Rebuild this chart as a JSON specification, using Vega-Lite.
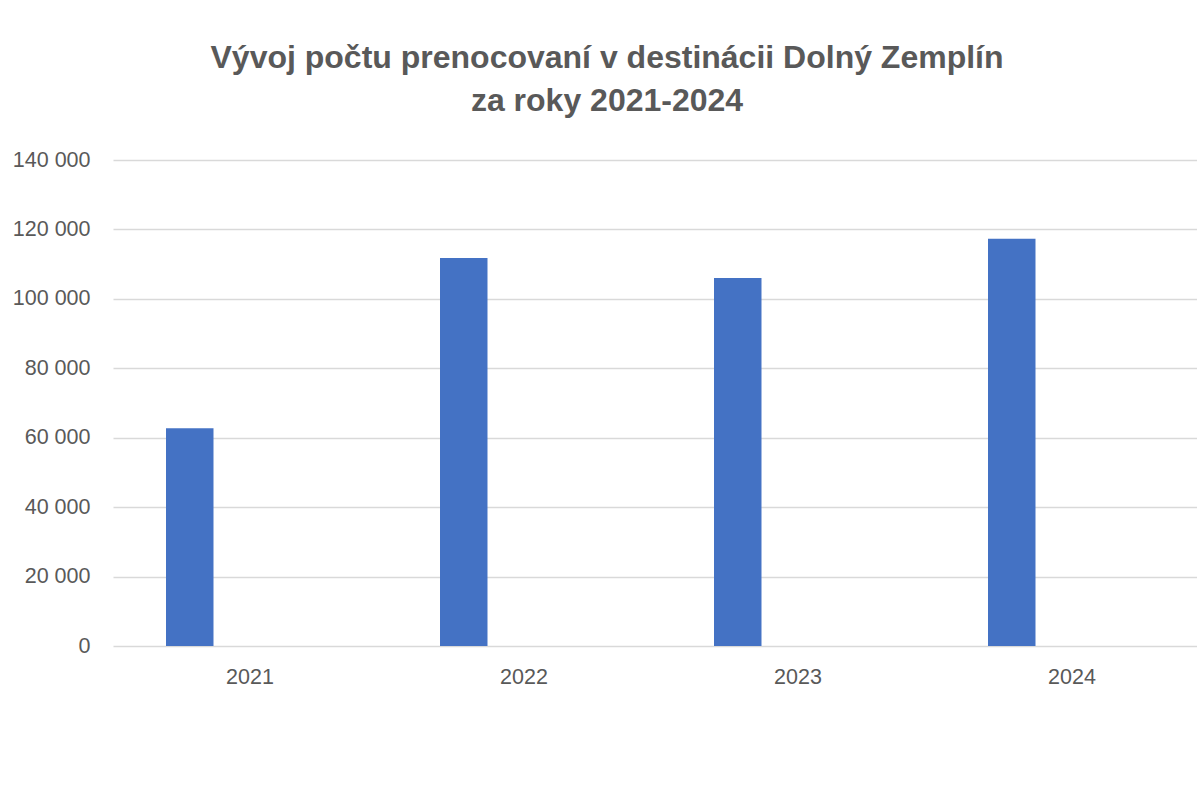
{
  "$schema": "https://vega.github.io/schema/vega-lite/v6.json",
  "width": 1084,
  "height": 486,
  "autosize": {"type": "none"},
  "padding": {"left": 113, "top": 160, "right": 0, "bottom": 166},
  "background": "white",
  "title": {
    "text": ["Vývoj počtu prenocovaní v destinácii Dolný Zemplín", "za roky 2021-2024"],
    "font": "Liberation Sans",
    "fontSize": 32,
    "fontWeight": "bold",
    "color": "#595959",
    "lineHeight": 43,
    "anchor": "middle",
    "frame": "group",
    "dx": -48,
    "offset": 31
  },
  "data": {
    "values": [
      {"rok": "2021", "rad": "Počet prenocovaní", "prenocovania": 62700},
      {"rok": "2022", "rad": "Počet prenocovaní", "prenocovania": 111800},
      {"rok": "2023", "rad": "Počet prenocovaní", "prenocovania": 106000},
      {"rok": "2024", "rad": "Počet prenocovaní", "prenocovania": 117300}
    ]
  },
  "mark": {"type": "bar", "color": "#4472C4"},
  "encoding": {
    "x": {
      "field": "rok",
      "type": "nominal",
      "scale": {"range": [0, 1096], "paddingInner": 0, "paddingOuter": 0},
      "axis": {
        "title": null,
        "labelAngle": 0,
        "domain": false,
        "ticks": false,
        "grid": false,
        "labelFont": "Liberation Sans",
        "labelFontSize": 21.5,
        "labelColor": "#595959",
        "labelPadding": 20
      }
    },
    "xOffset": {
      "field": "rad",
      "type": "nominal",
      "scale": {"paddingInner": 0.5806, "paddingOuter": 1, "align": 0.234}
    },
    "y": {
      "field": "prenocovania",
      "type": "quantitative",
      "scale": {"domain": [0, 140000], "nice": false},
      "axis": {
        "title": null,
        "values": [0, 20000, 40000, 60000, 80000, 100000, 120000, 140000],
        "labelExpr": "replace(format(datum.value, ','), ',', ' ')",
        "domain": false,
        "ticks": false,
        "grid": true,
        "gridColor": "#d9d9d9",
        "gridWidth": 1.3,
        "labelFont": "Liberation Sans",
        "labelFontSize": 21.5,
        "labelColor": "#595959",
        "labelPadding": 23
      }
    }
  },
  "config": {"view": {"stroke": null}, "legend": {"disable": true}}
}
